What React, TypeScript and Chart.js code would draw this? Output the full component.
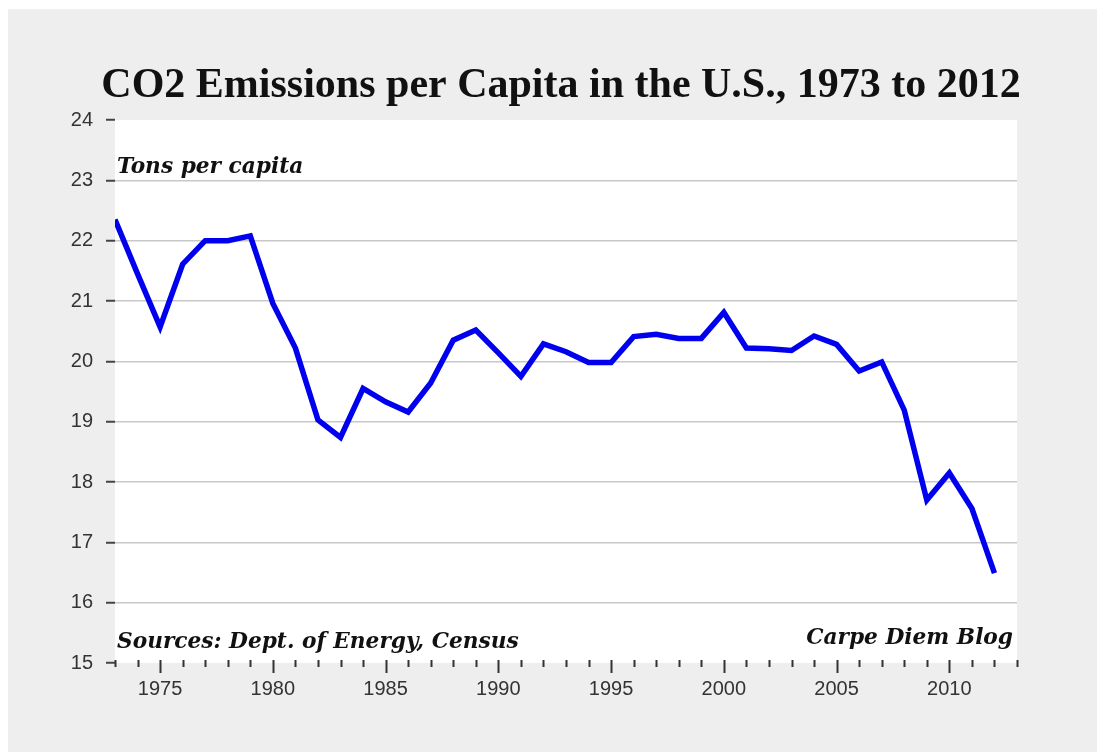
import { useEffect, useRef } from 'react';
import { Chart, registerables } from 'chart.js';

Chart.register(...registerables);

const years = [
  1973, 1974, 1975, 1976, 1977, 1978, 1979, 1980, 1981, 1982,
  1983, 1984, 1985, 1986, 1987, 1988, 1989, 1990, 1991, 1992,
  1993, 1994, 1995, 1996, 1997, 1998, 1999, 2000, 2001, 2002,
  2003, 2004, 2005, 2006, 2007, 2008, 2009, 2010, 2011, 2012,
];

const emissions = [
  22.35, 21.45, 20.57, 21.61, 22.0, 22.0, 22.08, 20.96, 20.22, 19.03,
  18.74, 19.55, 19.33, 19.16, 19.64, 20.35, 20.52, 20.14, 19.75, 20.29,
  20.16, 19.98, 19.98, 20.41, 20.45, 20.38, 20.38, 20.81, 20.22, 20.21,
  20.18, 20.42, 20.28, 19.84, 19.99, 19.19, 17.70, 18.15, 17.56, 16.49,
];

const xTickLabels = [1975, 1980, 1985, 1990, 1995, 2000, 2005, 2010];
const xMin = 1973;
const xMax = 2013;
const yMin = 15;
const yMax = 24;

const titleText = 'CO2 Emissions per Capita in the U.S., 1973 to 2012';
const unitText = 'Tons per capita';
const sourceText = 'Sources: Dept. of Energy, Census';
const creditText = 'Carpe Diem Blog';

const noteFont = 'bold italic 21.7px "DejaVu Serif", serif';

const decorPlugin = {
  id: 'decor',
  beforeDraw(chart: any) {
    const { ctx, chartArea: a } = chart;
    ctx.save();
    ctx.fillStyle = '#ffffff';
    ctx.fillRect(a.left, a.top, a.right - a.left, a.bottom - a.top);
    ctx.restore();
  },
  afterDraw(chart: any) {
    const { ctx, chartArea: a } = chart;
    const xs = chart.scales.x;
    ctx.save();
    // x tick marks
    ctx.strokeStyle = '#333333';
    ctx.lineWidth = 2;
    for (let yr = xMin; yr <= xMax; yr++) {
      const px = Math.round(xs.getPixelForValue(yr)) + 0.5;
      const major = yr % 5 === 0;
      ctx.beginPath();
      ctx.moveTo(px, a.bottom - 3);
      ctx.lineTo(px, a.bottom + (major ? 10 : 4));
      ctx.stroke();
    }
    // title
    ctx.fillStyle = '#111111';
    ctx.font = 'bold 42px "Liberation Serif", serif';
    ctx.textAlign = 'center';
    ctx.textBaseline = 'alphabetic';
    ctx.fillText(titleText, (a.left + a.right) / 2 - 5, 88);
    // notes
    ctx.font = noteFont;
    ctx.textAlign = 'left';
    ctx.fillText(unitText, a.left + 2, a.top + 53);
    ctx.fillText(sourceText, a.left + 2, a.bottom - 15);
    ctx.textAlign = 'right';
    ctx.fillText(creditText, a.right - 4, a.bottom - 19);
    ctx.restore();
  },
};

export default function App() {
  const ref = useRef<HTMLCanvasElement | null>(null);

  useEffect(() => {
    if (!ref.current) return;
    const chart = new Chart(ref.current, {
      type: 'line',
      data: {
        datasets: [
          {
            data: years.map((y, i) => ({ x: y, y: emissions[i] })),
            borderColor: '#0000ee',
            borderWidth: 5.5,
            pointRadius: 0,
            tension: 0,
            fill: false,
          },
        ],
      },
      options: {
        animation: false,
        responsive: true,
        maintainAspectRatio: false,
        layout: { padding: { top: 111, right: 80, left: 0, bottom: 0 } },
        plugins: {
          legend: { display: false },
          title: { display: false },
          tooltip: { enabled: false },
        },
        scales: {
          x: {
            type: 'linear',
            min: xMin,
            max: xMax,
            afterBuildTicks: (scale: any) => {
              scale.ticks = xTickLabels.map((v) => ({ value: v }));
            },
            afterFit: (scale: any) => {
              scale.height = 89;
            },
            grid: { display: false, drawTicks: false },
            border: { display: false },
            ticks: {
              padding: 14,
              color: '#333333',
              font: { family: '"Liberation Sans", Arial, sans-serif', size: 20 },
              callback: (v: any) => String(v),
              maxRotation: 0,
              autoSkip: false,
            },
          },
          y: {
            min: yMin,
            max: yMax,
            afterFit: (scale: any) => {
              scale.width = 107;
            },
            border: { display: false },
            grid: {
              color: (c: any) =>
                c.tick && (c.tick.value === yMin || c.tick.value === yMax)
                  ? 'rgba(0,0,0,0)'
                  : '#c8c8c8',
              lineWidth: 1.5,
              drawTicks: true,
              tickLength: 9,
              tickColor: '#444444',
              tickWidth: 2,
            },
            ticks: {
              stepSize: 1,
              padding: 13,
              color: '#333333',
              font: { family: '"Liberation Sans", Arial, sans-serif', size: 20 },
            },
          },
        },
      },
      plugins: [decorPlugin],
    });
    return () => chart.destroy();
  }, []);

  return (
    <div
      style={{
        position: 'fixed',
        left: 8,
        top: 9,
        width: 1089,
        height: 743,
        background: '#eeeeee',
      }}
    >
      <canvas ref={ref} />
    </div>
  );
}
